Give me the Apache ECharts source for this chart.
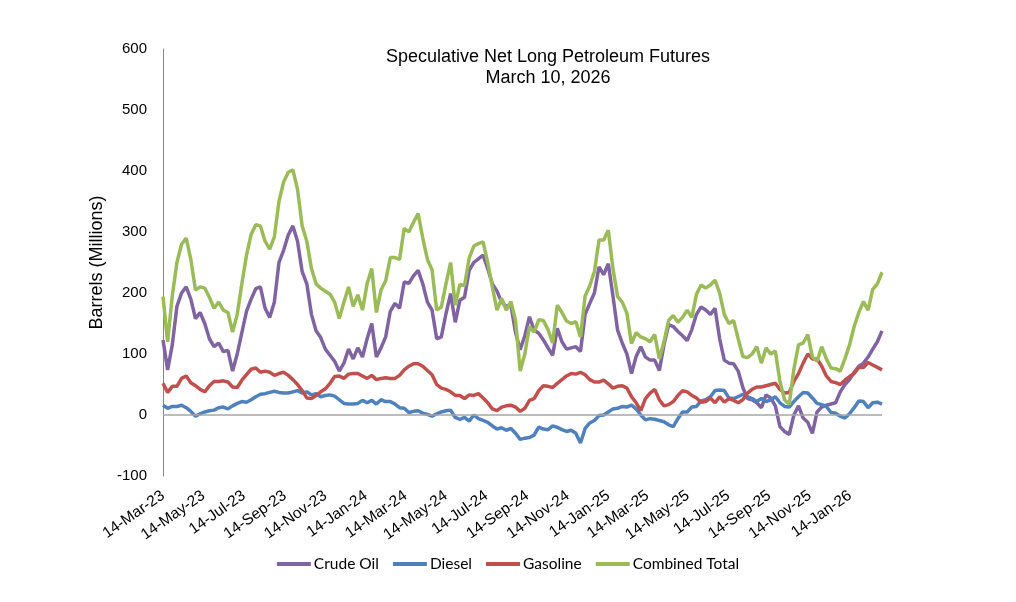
<!DOCTYPE html>
<html>
<head>
<meta charset="utf-8">
<script src="https://cdn.jsdelivr.net/npm/echarts@6/dist/echarts.min.js"></script>
<style>
  html, body { margin: 0; padding: 0; background: #fff; }
  #chart { width: 1016px; height: 602px; }
</style>
</head>
<body>
<div id="chart"></div>
<script>
// weekly positioning reports, Tuesdays, from 14-Mar-23
const startDate = [2023, 2, 14];
const weekCount = 156;

// x axis labels (every 2 months)
const tickDates = [
  '2023-03-14', '2023-05-14', '2023-07-14', '2023-09-14', '2023-11-14',
  '2024-01-14', '2024-03-14', '2024-05-14', '2024-07-14', '2024-09-14', '2024-11-14',
  '2025-01-14', '2025-03-14', '2025-05-14', '2025-07-14', '2025-09-14', '2025-11-14',
  '2026-01-14'
];
const monthNames = ['Jan', 'Feb', 'Mar', 'Apr', 'May', 'Jun', 'Jul', 'Aug', 'Sep', 'Oct', 'Nov', 'Dec'];

// million barrels
const crudeOil = [
  123, 74, 115, 178, 200, 210, 190, 158, 168, 150, 125, 112, 118, 104, 106, 72, 100, 135, 170, 190, 207, 210, 175, 160, 185, 250,
  270, 295, 310, 285, 235, 215, 165, 138, 127, 108, 98, 88, 72, 85, 108, 92, 110, 95, 125, 150, 95, 110, 128, 170, 183,
  175, 218, 216, 228, 237, 215, 185, 172, 125, 128, 166, 199, 152, 188, 193, 237, 250, 256, 262, 240, 215, 203, 185, 178, 180, 135,
  107, 130, 161, 139, 134, 123, 110, 98, 142, 120, 108, 110, 112, 104, 165, 183, 200, 243, 230, 248, 195, 139, 118, 100, 68, 96,
  112, 95, 90, 90, 73, 115, 148, 145, 137, 130, 122, 140, 165, 177, 172, 165, 175, 125, 90, 85, 84, 72, 45, 27, 25, 20,
  12, 33, 28, 15, -19, -27, -32, 0, 15, -5, -12, -30, 5, 13, 16, 18, 20, 38, 50, 58, 70, 80, 85, 95, 108, 120, 138
];
const diesel = [
  16, 11, 14, 14, 16, 12, 6, -2, 2, 5, 7, 8, 12, 13, 10, 15, 19, 22, 21, 25, 30, 34, 35, 37, 39, 37,
  36, 36, 38, 40, 36, 38, 33, 35, 30, 32, 33, 31, 25, 19, 18, 18, 19, 24, 20, 24, 18, 25, 22, 22, 18,
  12, 11, 4, 6, 7, 3, 1, -2, 2, 5, 7, 8, -4, -7, -4, -10, 0, -6, -9, -12, -18, -23, -21, -25, -22, -30,
  -40, -38, -37, -33, -20, -23, -24, -18, -20, -24, -27, -25, -30, -46, -22, -13, -9, -1, 0, 5, 10, 11, 14, 13, 16, 10,
  0, -8, -6, -7, -9, -11, -16, -19, -6, 5, 5, 13, 14, 23, 25, 30, 40, 41, 40, 28, 27, 30, 34, 30, 27, 22,
  27, 22, 25, 30, 20, 14, 13, 22, 30, 37, 36, 28, 19, 17, 14, 4, 3, -2, -5, 2, 12, 23, 22, 12, 20, 21, 18
];
const gasoline = [
  52, 37, 47, 47, 60, 64, 53, 48, 42, 38, 48, 55, 55, 56, 54, 46, 45, 57, 66, 75, 77, 70, 72, 70, 65, 68,
  70, 65, 58, 50, 40, 28, 27, 32, 38, 43, 52, 63, 64, 60, 67, 68, 68, 64, 60, 65, 58, 60, 61, 60, 60,
  65, 74, 80, 84, 84, 80, 73, 66, 50, 44, 42, 38, 32, 32, 27, 33, 32, 35, 28, 20, 10, 7, 13, 15, 16, 13,
  6, 11, 24, 27, 40, 48, 47, 45, 52, 58, 64, 68, 67, 70, 66, 58, 54, 54, 57, 51, 44, 47, 48, 44, 30, 20,
  7, 27, 36, 42, 25, 15, 17, 22, 32, 40, 38, 32, 28, 21, 22, 28, 20, 30, 21, 27, 24, 20, 25, 36, 42, 46,
  46, 48, 50, 52, 42, 36, 37, 55, 68, 85, 100, 92, 92, 80, 64, 55, 53, 50, 57, 63, 68, 78, 78, 86, 82, 78, 74
];
const combinedTotal = [
  194, 120, 195, 250, 280, 290, 255, 205, 210, 208, 193, 175, 185, 172, 168, 136, 165, 215, 262, 296, 312, 310, 285, 272, 292, 350,
  382, 398, 402, 370, 310, 285, 240, 215, 208, 203, 198, 185, 158, 185, 210, 178, 197, 172, 215, 240, 168, 205, 220, 258, 258,
  255, 306, 300, 316, 330, 290, 255, 238, 172, 177, 215, 250, 180, 214, 212, 257, 277, 281, 284, 250, 210, 172, 191, 172, 186, 155,
  72, 100, 145, 136, 156, 155, 140, 118, 180, 168, 154, 150, 153, 128, 195, 212, 235, 287, 287, 303, 240, 194, 185, 167, 117, 135,
  128, 125, 120, 132, 92, 120, 155, 163, 152, 160, 172, 160, 198, 213, 208, 213, 221, 200, 165, 150, 155, 125, 96, 94, 100, 112,
  85, 110, 100, 105, 55, 25, 17, 75, 115, 118, 132, 95, 88, 112, 92, 77, 76, 72, 92, 115, 145, 168, 186, 172, 206, 215, 234
];

const dates = [];
for (let i = 0; i < weekCount; i++) {
  dates.push(new Date(startDate[0], startDate[1], startDate[2] + 7 * i).getTime());
}
const tickValues = tickDates.map((s) => {
  const p = s.split('-');
  return new Date(+p[0], +p[1] - 1, +p[2]).getTime();
});

function pair(values) {
  return values.map((v, i) => [dates[i], v]);
}

function fmtDate(value) {
  const d = new Date(value);
  return d.getDate() + '-' + monthNames[d.getMonth()] + '-' + String(d.getFullYear()).slice(2);
}

const chart = echarts.init(document.getElementById('chart'), null, { renderer: 'canvas' });

const lineSeries = (name, color, values) => ({
  name: name,
  type: 'line',
  data: pair(values),
  showSymbol: false,
  symbol: 'none',
  smooth: false,
  lineStyle: { color: color, width: 3.5 },
  itemStyle: { color: color },
  emphasis: { disabled: true },
});

const option = {
  animation: false,
  backgroundColor: '#fff',
  title: {
    text: 'Speculative Net Long Petroleum Futures\nMarch 10, 2026',
    left: 543,
    top: 42,
    textAlign: 'center',
    textStyle: {
      fontFamily: 'Liberation Sans, Arial, sans-serif',
      fontSize: 18,
      fontWeight: 'normal',
      color: '#000',
      lineHeight: 21,
    },
  },
  legend: {
    bottom: 25,
    left: 'center',
    icon: 'rect',
    itemWidth: 34,
    itemHeight: 4,
    itemGap: 14,
    textStyle: {
      fontFamily: 'Lato, Open Sans, sans-serif',
      fontSize: 15.5,
      color: '#000',
      padding: [0, 0, 0, -2],
    },
    data: ['Crude Oil', 'Diesel', 'Gasoline', 'Combined Total'],
  },
  grid: {
    left: 163,
    right: 134,
    top: 49,
    bottom: 126,
  },
  xAxis: {
    type: 'value',
    min: dates[0],
    max: dates[dates.length - 1],
    axisLine: { show: false, onZero: false },
    axisTick: { show: false },
    splitLine: { show: false },
    axisLabel: {
      customValues: tickValues,
      rotate: 35,
      margin: 18,
      fontFamily: 'Liberation Sans, Arial, sans-serif',
      fontSize: 15.5,
      color: '#000',
      formatter: (v) => fmtDate(v),
    },
  },
  yAxis: {
    type: 'value',
    min: -100,
    max: 600,
    interval: 100,
    name: 'Barrels (Millions)',
    nameLocation: 'middle',
    nameGap: 51,
    nameTextStyle: {
      fontFamily: 'Liberation Sans, Arial, sans-serif',
      fontSize: 18,
      color: '#000',
    },
    axisLine: { show: true, lineStyle: { color: '#868686', width: 1 } },
    axisTick: { show: false },
    splitLine: { show: false },
    axisLabel: {
      margin: 16,
      fontFamily: 'Liberation Sans, Arial, sans-serif',
      fontSize: 15,
      color: '#000',
    },
  },
  series: [
    Object.assign(lineSeries('Crude Oil', '#8064A2', crudeOil), {
      markLine: {
        silent: true,
        symbol: 'none',
        label: { show: false },
        lineStyle: { color: '#a6a6a6', width: 1.5, type: 'solid' },
        data: [{ yAxis: 0 }],
      },
    }),
    lineSeries('Diesel', '#4F81BD', diesel),
    lineSeries('Gasoline', '#C0504D', gasoline),
    lineSeries('Combined Total', '#9BBB59', combinedTotal),
  ],
};

chart.setOption(option);
</script>
</body>
</html>
